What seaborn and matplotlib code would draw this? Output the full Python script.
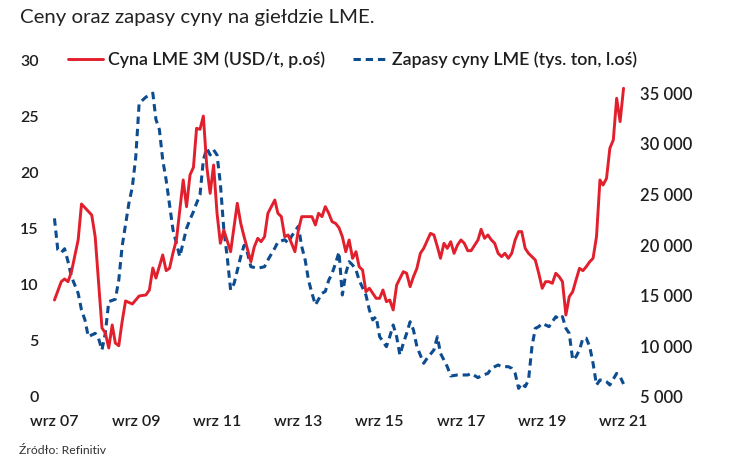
import numpy as np
import pandas as pd
import matplotlib
matplotlib.use("Agg")
import matplotlib.pyplot as plt
import seaborn as sns

# ---- data (months counted from Sep 2007) ----
price_months = [0, 2, 3, 4, 5, 7, 8, 11, 12, 14, 15, 16, 17, 18, 19, 20, 21, 23, 25, 27,
                28, 29, 30, 32, 33, 34, 35, 36, 38, 39, 40, 41, 42, 43, 44, 45, 46, 47, 48, 49,
                50, 52, 54, 55, 56, 58, 59, 60, 61, 62, 63, 65, 66, 67, 68, 69, 70, 71, 72, 73,
                75, 76, 77, 78, 79, 80, 81, 82, 83, 84, 85, 86, 87, 88, 89, 90, 91, 92, 93, 94,
                95, 96, 97, 98, 99, 100, 101, 103, 104, 105, 106, 107, 108, 109, 111, 112, 113, 114, 115, 116,
                117, 118, 119, 120, 121, 122, 123, 125, 126, 127, 128, 129, 130, 131, 132, 133, 134, 135, 136, 137,
                138, 139, 140, 142, 143, 144, 145, 146, 147, 148, 149, 150, 151, 152, 153, 154, 155, 156, 157, 158,
                159, 160, 161, 162, 163, 164, 165, 166, 167, 168]
price_usd_t = [14570, 16380, 16650, 16380, 17370, 20500, 24050, 22960, 20820, 11810, 11320, 9840, 12110, 10330, 10060, 12430, 14480, 14180, 14970, 15070,
               15560, 17730, 16740, 19020, 17470, 17700, 19210, 20500, 26420, 23780, 26910, 27670, 31520, 31420, 32730, 27730, 25100, 27900, 23130, 20170,
               21480, 19340, 24120, 22140, 20820, 18350, 19830, 20660, 20330, 20820, 23130, 24440, 23130, 22800, 20820, 20990, 20170, 19340, 21480, 22800,
               22800, 22800, 21980, 23130, 22800, 23790, 23130, 22300, 22140, 21700, 20820, 19340, 20500, 18690, 19340, 17860, 17530, 15390, 15730, 15240,
               14740, 14740, 15560, 14410, 14570, 13590, 16050, 17370, 17210, 15890, 16870, 17700, 19180, 19670, 21150, 20990, 19830, 18690, 20170, 19670,
               20330, 19180, 20000, 20500, 20170, 19440, 19440, 20500, 21550, 20660, 20990, 20500, 20170, 19180, 18850, 19180, 18690, 19180, 20500, 21320,
               21320, 19670, 19180, 18520, 17210, 15730, 16380, 16380, 16220, 17210, 16870, 16380, 13090, 14900, 15390, 16550, 17700, 17470, 17860, 18350,
               18690, 20820, 26420, 25920, 26580, 29550, 30370, 34480, 32180, 35470]

stock_months = [0, 1, 2, 3, 4, 5, 7, 8, 9, 10, 12, 13, 14, 15, 16, 18, 19, 20, 22, 23,
                24, 25, 27, 29, 30, 31, 32, 33, 35, 36, 37, 39, 40, 41, 42, 43, 44, 45, 46, 47,
                48, 49, 50, 51, 52, 53, 55, 56, 57, 58, 60, 62, 63, 65, 66, 68, 69, 70, 72, 73,
                74, 75, 76, 77, 79, 80, 81, 82, 83, 84, 85, 86, 87, 88, 89, 90, 92, 93, 94, 95,
                96, 98, 99, 100, 101, 102, 103, 104, 105, 106, 107, 109, 110, 112, 113, 114, 116, 117, 119, 120,
                122, 123, 125, 126, 128, 129, 131, 132, 134, 135, 136, 137, 138, 139, 140, 141, 142, 143, 144, 145,
                146, 148, 149, 150, 151, 152, 153, 154, 155, 156, 157, 158, 159, 160, 161, 162, 163, 164, 166, 167,
                168]
stocks_kt = [15.9, 13.1, 12.85, 13.2, 12.05, 10.7, 9.23, 7.75, 6.86, 5.37, 5.67, 5.22, 4.19, 5.67, 8.49, 8.7, 10.4, 13.4, 17.25, 18.7,
             21.4, 26.15, 26.7, 27.05, 24.7, 23.8, 21.1, 19.3, 14.9, 13.7, 12.5, 15.0, 15.8, 16.5, 17.25, 18.0, 21.1, 22.15, 21.55, 22.0,
             21.55, 19.0, 14.9, 12.5, 9.53, 10.1, 12.5, 13.5, 12.8, 11.6, 11.46, 11.6, 12.2, 13.25, 13.8, 14.0, 13.7, 14.3, 15.2, 13.4,
             12.2, 10.4, 9.23, 8.2, 9.23, 9.4, 10.4, 11.0, 11.9, 12.9, 9.08, 11.0, 12.05, 11.75, 11.3, 10.4, 9.08, 7.75, 6.86, 7.15,
             5.37, 4.48, 5.37, 6.41, 5.37, 3.74, 4.78, 5.67, 6.7, 5.97, 4.48, 3.0, 3.45, 4.19, 5.37, 3.89, 2.7, 1.87, 1.96, 1.96,
             1.96, 2.1, 1.72, 1.9, 2.1, 2.55, 2.85, 2.7, 2.7, 2.55, 2.1, 0.77, 1.22, 0.92, 1.51, 4.48, 6.11, 6.26, 6.56, 6.41,
             6.26, 7.15, 6.92, 7.15, 6.11, 5.67, 3.3, 3.59, 4.19, 5.23, 5.23, 4.48, 3.0, 1.07, 1.51, 1.51, 1.36, 1.07, 2.1, 1.81,
             1.16]

tick_years = [2007, 2009, 2011, 2013, 2015, 2017, 2019, 2021]
tick_labels = ["wrz 07", "wrz 09", "wrz 11", "wrz 13", "wrz 15", "wrz 17", "wrz 19", "wrz 21"]
left_ticks = [0, 5, 10, 15, 20, 25, 30]
right_ticks = [5000, 10000, 15000, 20000, 25000, 30000, 35000]

title = "Ceny oraz zapasy cyny na giełdzie LME."
label_price = "Cyna LME 3M (USD/t, p.oś)"
label_stock = "Zapasy cyny LME (tys. ton, l.oś)"
source = "Źródło: Refinitiv"

start = pd.Period("2007-09", freq="M")
def to_dates(months):
    return [(start + int(m)).to_timestamp() for m in months]

df_price = pd.DataFrame({"date": to_dates(price_months), "value": price_usd_t})
df_stock = pd.DataFrame({"date": to_dates(stock_months), "value": stocks_kt})

# ---- style ----
sns.set_theme(style="white")
plt.rcParams["font.family"] = ["Lato", "DejaVu Sans"]

RED = "#E2202D"
BLUE = "#0D4C8F"
TXT = "#1E1E1E"

W, H = 741, 467
fig = plt.figure(figsize=(W / 100, H / 100), dpi=100)
ax = fig.add_axes([50 / W, 1 - 397 / H, (628 - 50) / W, (397 - 60) / H])
ax2 = ax.twinx()

sns.lineplot(data=df_stock, x="date", y="value", ax=ax, color=BLUE, lw=2.2,
             linestyle=(0, (2.4, 1.6)), label=label_stock, legend=False)
sns.lineplot(data=df_price, x="date", y="value", ax=ax2, color=RED, lw=2.1,
             label=label_price, legend=False)

ax.set_ylim(0, 30)
ax2.set_ylim(5000, 38260)
x0 = (start + 0).to_timestamp() - pd.Timedelta(days=40)
x1 = (start + 168).to_timestamp() + pd.Timedelta(days=40)
ax.set_xlim(x0, x1)

ax.set_yticks(left_ticks)
ax.set_yticklabels([str(v) for v in left_ticks])
ax2.set_yticks(right_ticks)
ax2.set_yticklabels([f"{v:,}".replace(",", " ") for v in right_ticks])
ax.set_xticks([pd.Timestamp(f"{y}-09-01") for y in tick_years])
ax.set_xticklabels(tick_labels)

for a in (ax, ax2):
    for s in a.spines.values():
        s.set_visible(False)
    a.set_xlabel("")
    a.set_ylabel("")
    a.grid(False)
ax.tick_params(axis="y", length=0, pad=8, labelsize=11.5, labelcolor=TXT)
ax.tick_params(axis="x", length=0, pad=13, labelsize=11.5, labelcolor=TXT)
ax2.tick_params(axis="y", length=0, pad=9, labelsize=12, labelcolor=TXT)
for lab in ax.get_yticklabels() + ax.get_xticklabels() + ax2.get_yticklabels():
    lab.set_fontweight("semibold")

h1, l1 = ax2.get_legend_handles_labels()
h2, l2 = ax.get_legend_handles_labels()
leg = ax.legend(h1 + h2, l1 + l2, loc="center", bbox_to_anchor=(0.524, 1.0), ncol=2,
                frameon=False, fontsize=12.8, handlelength=1.95, handletextpad=0.25,
                columnspacing=1.6, borderaxespad=0)
for t in leg.get_texts():
    t.set_color(TXT)
    t.set_fontweight("semibold")

fig.text(20 / W, 1 - 17 / H, title, fontsize=14.7, color="#222222", va="center", ha="left")
fig.text(19 / W, 1 - 450 / H, source, fontsize=8.8, color="#333333", va="center", ha="left")

fig.savefig("out.png", dpi=100)
